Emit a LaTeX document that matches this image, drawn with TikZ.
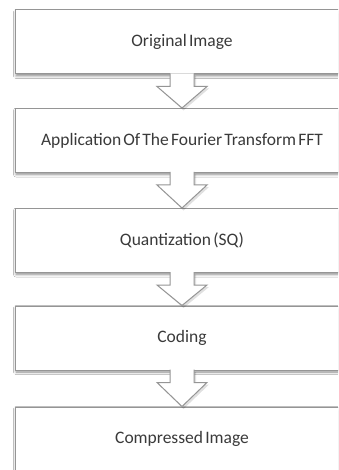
\documentclass[tikz,border=0pt]{standalone}
\usepackage{fontspec}
\setmainfont{Carlito}[WordSpace=0.55]
\usetikzlibrary{calc,shadows.blur}
\definecolor{txtgray}{HTML}{3A3A3A}
\definecolor{edgegray}{HTML}{959595}
\tikzset{
  stepbox/.style={draw=edgegray, line width=1pt, fill=white,
    minimum width=334pt, minimum height=64pt, inner sep=0pt,
    text=txtgray, font=\fontsize{17.5}{19}\selectfont,
    blur shadow={shadow xshift=1pt, shadow yshift=-2pt, shadow blur steps=6,
      shadow blur radius=2.5pt, shadow opacity=45}},
  blockarrow/.style={draw=edgegray, line width=1pt, fill=white, line join=miter},
  arrowshadow/.style={fill=black, opacity=0.12}
}
\newcommand{\flowarrow}[2]{%
  \fill[arrowshadow] ($(#1.south)+(-11,1.5)$) -- ($(#1.south)+(-11,14)$) -- ($(#1.south)+(-23,14)$) -- ($(#2.north)+(1.5,2.5)$) -- ($(#1.south)+(27,14)$) -- ($(#1.south)+(14,14)$) -- ($(#1.south)+(14,1.5)$) -- cycle;
  \filldraw[blockarrow] ($(#1.south)+(-12,-1)$) -- ($(#1.south)+(-12,12)$) -- ($(#1.south)+(-25,12)$) -- (#2.north) -- ($(#1.south)+(25,12)$) -- ($(#1.south)+(12,12)$) -- ($(#1.south)+(12,-1)$);
}
\begin{document}
\begin{tikzpicture}[x=1pt,y=-1pt]
\fill[white] (0,0) rectangle (338,470);
\useasboundingbox (0,0) rectangle (338,470);
\clip (0,0) rectangle (338,470);
\node[stepbox] (b1) at (182,42) {Original Image};
\node[stepbox] (b2) at (182,140.5) {Application Of The Fourier Transform FFT};
\node[stepbox] (b3) at (182,240.5) {Quantization (SQ)};
\node[stepbox] (b4) at (182,338) {Coding};
\node[stepbox] (b5) at (182,439) {Compressed Image};
\flowarrow{b1}{b2}
\flowarrow{b2}{b3}
\flowarrow{b3}{b4}
\flowarrow{b4}{b5}
\end{tikzpicture}
\end{document}
